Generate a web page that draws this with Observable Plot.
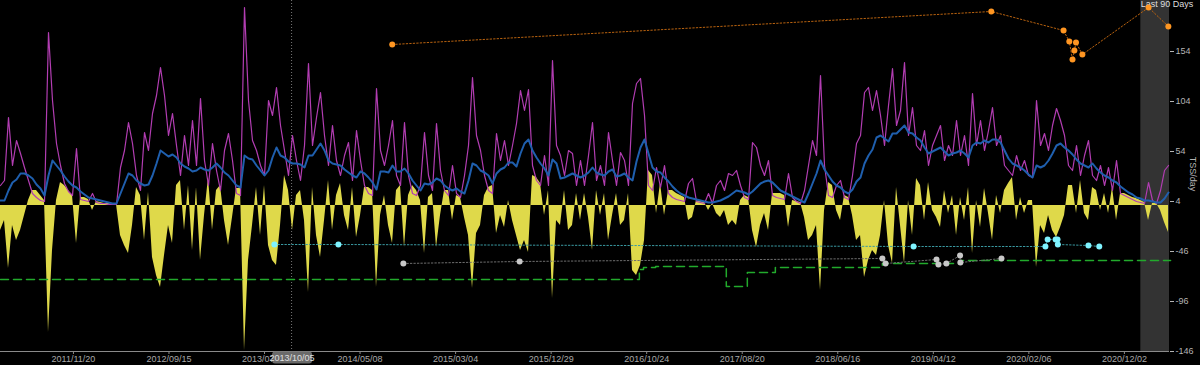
<!DOCTYPE html>
<html>
<head>
<meta charset="utf-8">
<script src="https://cdn.jsdelivr.net/npm/d3@7"></script>
<script src="https://cdn.jsdelivr.net/npm/@observablehq/plot@0.6"></script>
<style>
  html, body { margin: 0; padding: 0; background: #000; }
  #chart { width: 1200px; height: 365px; overflow: hidden; }
</style>
</head>
<body>
<div id="chart"></div>
<script>
// ---------- time frame ----------
const DAY = 864e5;
const START = Date.UTC(2011, 3, 5);          // left edge of the plot
const SPAN_DAYS = 3670.6;                     // visible span
const STEP_DAYS = 12.56;                      // spacing of the samples below
const LAST_DAYS = 90;
const hoverDate = "2013-10-05";

// ---------- x tick labels ----------
const xTickLabels = ["2011/11/20","2012/09/15","2013/07/12","2014/05/08","2015/03/04","2015/12/29",
  "2016/10/24","2017/08/20","2018/06/16","2019/04/12","2020/02/06","2020/12/02"];
const yTicks = [154, 104, 54, 4, -46, -96, -146];

// ---------- long-term load (blue) ----------
const ctl = [
  5,5,15,23,26,32,32,30,27,21,
  17,10,30,45,40,35,29,24,20,18,
  14,11,8,7,6,5,4,3,2,2,
  12,22,32,30,25,22,20,21,30,42,
  55,52,49,51,48,42,39,37,34,35,
  38,36,35,38,42,38,33,30,25,20,
  18,50,47,46,40,35,30,35,48,58,
  50,48,44,42,42,41,38,50,50,56,
  62,55,45,42,41,40,36,33,30,28,
  34,32,28,23,16,34,34,33,40,34,
  34,37,32,25,20,15,22,21,23,27,
  25,20,17,15,17,14,12,25,42,40,
  35,33,30,22,32,36,38,43,43,39,
  52,62,66,55,48,42,37,30,46,42,
  27,28,30,32,30,28,30,33,38,33,
  31,30,34,36,29,30,32,28,25,44,
  58,66,52,38,34,33,28,24,19,15,
  12,10,8,7,6,5,4,3,3,4,
  5,7,9,12,15,14,13,11,14,18,
  22,24,25,23,19,15,13,11,9,7,
  5,3,12,22,32,45,36,30,24,20,
  18,14,12,16,24,28,42,50,56,68,
  70,67,64,72,72,76,80,73,72,68,
  65,58,52,54,56,58,54,50,52,53,
  55,52,48,60,63,62,65,63,66,66,
  63,55,47,42,40,38,35,31,28,40,
  38,40,45,52,60,62,58,55,51,46,
  42,40,38,42,37,33,30,28,25,23,
  19,16,13,11,8,7,5,5,4,3,
  3,7,13
];

// ---------- short-term load (purple) ----------
const atl = [
  20,25,88,40,65,52,38,25,12,8,
  5,4,173,105,62,40,22,14,10,57,
  6,5,4,12,3,2,2,1,1,1,
  38,55,83,62,30,15,73,55,92,110,
  138,110,70,92,60,30,70,40,85,40,
  107,45,20,62,35,15,55,72,45,12,
  10,198,105,65,55,40,30,105,90,118,
  80,55,30,70,45,25,60,142,60,88,
  113,70,40,80,45,30,50,63,25,75,
  45,20,12,10,117,55,40,60,85,30,
  20,83,30,12,10,20,73,30,15,82,
  35,15,10,40,12,8,30,60,128,70,
  55,30,15,12,72,45,65,40,60,82,
  115,95,116,40,25,20,50,20,145,60,
  50,30,55,52,20,45,20,50,83,25,
  40,20,73,45,20,53,45,20,102,122,
  127,90,20,15,38,18,40,12,8,6,
  5,4,22,27,4,3,2,12,2,20,
  25,15,32,30,35,20,8,6,63,58,
  40,30,45,10,8,7,6,32,8,4,
  2,15,40,65,50,130,40,10,8,20,
  25,8,6,30,62,70,113,118,95,115,
  90,60,100,137,80,95,143,70,98,60,
  55,75,40,60,70,80,45,60,50,85,
  50,70,40,112,60,85,55,75,98,60,
  70,40,35,30,50,35,45,30,28,105,
  60,72,55,80,97,85,70,40,35,60,
  30,50,65,30,25,40,20,38,15,45,
  12,10,8,6,4,3,2,23,5,2,
  15,35,40
];

// ---------- stress balance (yellow) ----------
const tsb = [
  -25,-15,-63,-20,-35,-25,-10,5,15,15,
  10,5,-127,-45,5,23,20,15,10,-38,
  8,8,6,-5,4,3,2,2,1,1,
  -30,-40,-48,-20,18,10,-35,13,-52,-70,
  -82,-50,-20,-38,20,25,-25,20,-45,18,
  -55,-10,28,-25,15,20,-15,-40,-12,17,
  17,-145,-55,-20,18,-30,20,-40,-55,-60,
  -20,30,15,-25,10,15,-15,-87,18,-30,
  -52,-15,25,-25,10,22,-10,-25,18,-32,
  -10,18,18,15,-82,-10,10,-20,-38,15,
  20,-42,10,20,15,5,-48,8,12,-42,
  -10,15,15,-15,10,8,-12,-30,-83,-28,
  -20,10,18,20,-28,-10,-22,5,-15,-30,
  -45,-35,-47,30,28,22,-10,15,-93,-15,
  -20,15,-25,-20,12,-15,12,-12,-45,15,
  -10,12,-35,-10,12,-20,-15,12,-65,-70,
  -60,-35,35,30,-8,22,-10,15,15,12,
  10,8,-15,-12,5,4,3,-5,2,-8,
  -12,-5,-20,-15,-20,5,10,8,-25,-42,
  -20,-8,-25,12,12,12,10,-22,5,4,
  3,-12,-35,-30,-20,-85,-5,23,20,-5,
  -15,10,8,-10,-35,-30,-72,-55,-45,-50,
  -30,5,-40,-58,18,-20,-58,5,-30,27,
  20,-15,23,-5,-12,-22,15,-8,10,-30,
  8,-15,18,-48,5,-22,17,-8,-35,10,
  -8,15,22,28,-15,8,-8,5,5,-62,
  -20,-28,-10,-25,-32,-22,-10,20,20,-8,
  25,-8,-15,18,15,-5,12,-8,18,-15,
  12,12,10,8,7,5,3,-15,2,2,
  -5,-17,-27
];

// ---------- orange points ----------
const orangeDates = ["2014-08-17","2019-10-11","2020-05-25","2020-06-12","2020-06-22","2020-06-28","2020-07-03","2020-07-23","2021-02-16","2021-04-19"];
const orangeVals  = [161,194,175,164,146,155,163,151,198,179];
// ---------- cyan points ----------
const cyanDates = ["2013-08-12","2014-03-01","2019-02-09","2020-03-29","2020-04-05","2020-04-30","2020-05-06","2020-05-07","2020-08-11","2020-09-14"];
const cyanVals  = [-39,-39,-41,-41,-34,-34,-34,-39,-40,-41];
// ---------- grey points ----------
const greyDates = ["2014-09-21","2015-09-21","2018-11-03","2018-11-13","2019-04-22","2019-04-28","2019-05-23","2019-07-05","2019-07-06","2019-11-12"];
const greyVals  = [-58,-56,-53,-58,-54,-59,-58,-50,-57,-53];
// ---------- green dashed step ----------
const greenDates = ["2011-04-05","2016-10-01","2016-10-14","2016-11-21","2017-07-01","2017-09-05","2017-12-02","2018-11-03","2019-07-06","2021-04-26"];
const greenVals  = [-74,-64,-62,-61,-81,-67,-62,-58,-55,-55];

// ---------- build tables ----------
const pd = s => new Date(s + "T00:00:00Z");
const END = START + SPAN_DAYS * DAY;
const load = ctl.map((c, i) => ({date: new Date(START + i * STEP_DAYS * DAY), ctl: c, atl: atl[i], tsb: tsb[i]}));
const pts = (ds, vs) => ds.map((d, i) => ({date: pd(d), v: vs[i]}));
const orange = pts(orangeDates, orangeVals);
const cyan = pts(cyanDates, cyanVals);
const grey = pts(greyDates, greyVals);
const green = pts(greenDates, greenVals);
const xTicks = xTickLabels.map(s => pd(s.replace(/\//g, "-")));
const band = [{x1: new Date(END - LAST_DAYS * DAY), x2: new Date(END)}];

const chart = Plot.plot({
  width: 1200,
  height: 365,
  marginTop: 0,
  marginBottom: 14,
  marginLeft: 0,
  marginRight: 31,
  style: {background: "#000", color: "#b4b4b4", fontFamily: "'Liberation Sans', Arial, sans-serif", fontSize: "9px"},
  x: {type: "utc", domain: [new Date(START), new Date(END)]},
  y: {domain: [-146, 205]},
  marks: [
    Plot.rect(band, {x1: "x1", x2: "x2", y1: -146, y2: 205, fill: "#333333"}),
    Plot.text(band, {x: "x1", frameAnchor: "top", text: () => "Last 90 Days", textAnchor: "start", lineAnchor: "top", dy: 0, fill: "#dddddd"}),
    Plot.ruleX([pd(hoverDate)], {stroke: "#777", strokeDasharray: "1,2", strokeWidth: 1}),
    Plot.areaY(load, {x: "date", y: "tsb", fill: "#dfd94a", curve: "linear"}),
    Plot.lineY(load, {x: "date", y: "atl", stroke: "#b23db2", strokeWidth: 1.2, curve: "linear"}),
    Plot.lineY(load, {x: "date", y: "ctl", stroke: "#1f5fae", strokeWidth: 2, curve: "linear"}),
    Plot.line(green, {x: "date", y: "v", curve: "step-after", stroke: "#22aa2c", strokeWidth: 1.5, strokeDasharray: "8,5"}),
    Plot.line(grey, {x: "date", y: "v", stroke: "#6e6e6e", strokeWidth: 1, strokeDasharray: "1.5,2"}),
    Plot.dot(grey, {x: "date", y: "v", r: 3, fill: "#c8c8c8", stroke: "none"}),
    Plot.line(cyan, {x: "date", y: "v", stroke: "#3a9aa2", strokeWidth: 1, strokeDasharray: "1.5,2"}),
    Plot.dot(cyan, {x: "date", y: "v", r: 3, fill: "#7ff3ff", stroke: "none"}),
    Plot.line(orange, {x: "date", y: "v", stroke: "#b8620f", strokeWidth: 1, strokeDasharray: "1.5,2"}),
    Plot.dot(orange, {x: "date", y: "v", r: 3, fill: "#ff9622", stroke: "none"}),
    Plot.ruleY([-146], {stroke: "#8a8a8a", strokeWidth: 1}),
    Plot.axisX({ticks: xTicks, tickFormat: d3.utcFormat("%Y/%m/%d"), tickSize: 3, tickPadding: 1, stroke: "#8a8a8a", fill: "#a8a8a8", label: null}),
    Plot.axisY({anchor: "right", ticks: yTicks, tickFormat: d => String(d), tickSize: 4, tickPadding: 2, stroke: "#b4b4b4", fill: "#b4b4b4", label: null})
  ]
});

document.getElementById("chart").appendChild(chart);

// hover date badge and axis title, placed with the chart's own scales
const svg = d3.select(chart);
const hx = chart.scale("x").apply(pd(hoverDate));
const g = svg.append("g").attr("font-family", "'Liberation Sans', Arial, sans-serif").attr("font-size", 9);
g.append("rect").attr("x", hx - 19).attr("y", 351.5).attr("width", 40).attr("height", 12).attr("rx", 3).attr("fill", "#6a6a6a");
g.append("text").attr("x", hx + 1).attr("y", 360.5).attr("text-anchor", "middle").attr("fill", "#e0e0e0").text(hoverDate.replace(/-/g, "/"));
const ymid = chart.scale("y").apply(31);
svg.append("text").attr("transform", `translate(1190,${ymid}) rotate(90)`)
  .attr("text-anchor", "middle").attr("font-family", "'Liberation Sans', Arial, sans-serif").attr("font-size", 9)
  .attr("fill", "#b4b4b4").text("TSS/day");
</script>
</body>
</html>
